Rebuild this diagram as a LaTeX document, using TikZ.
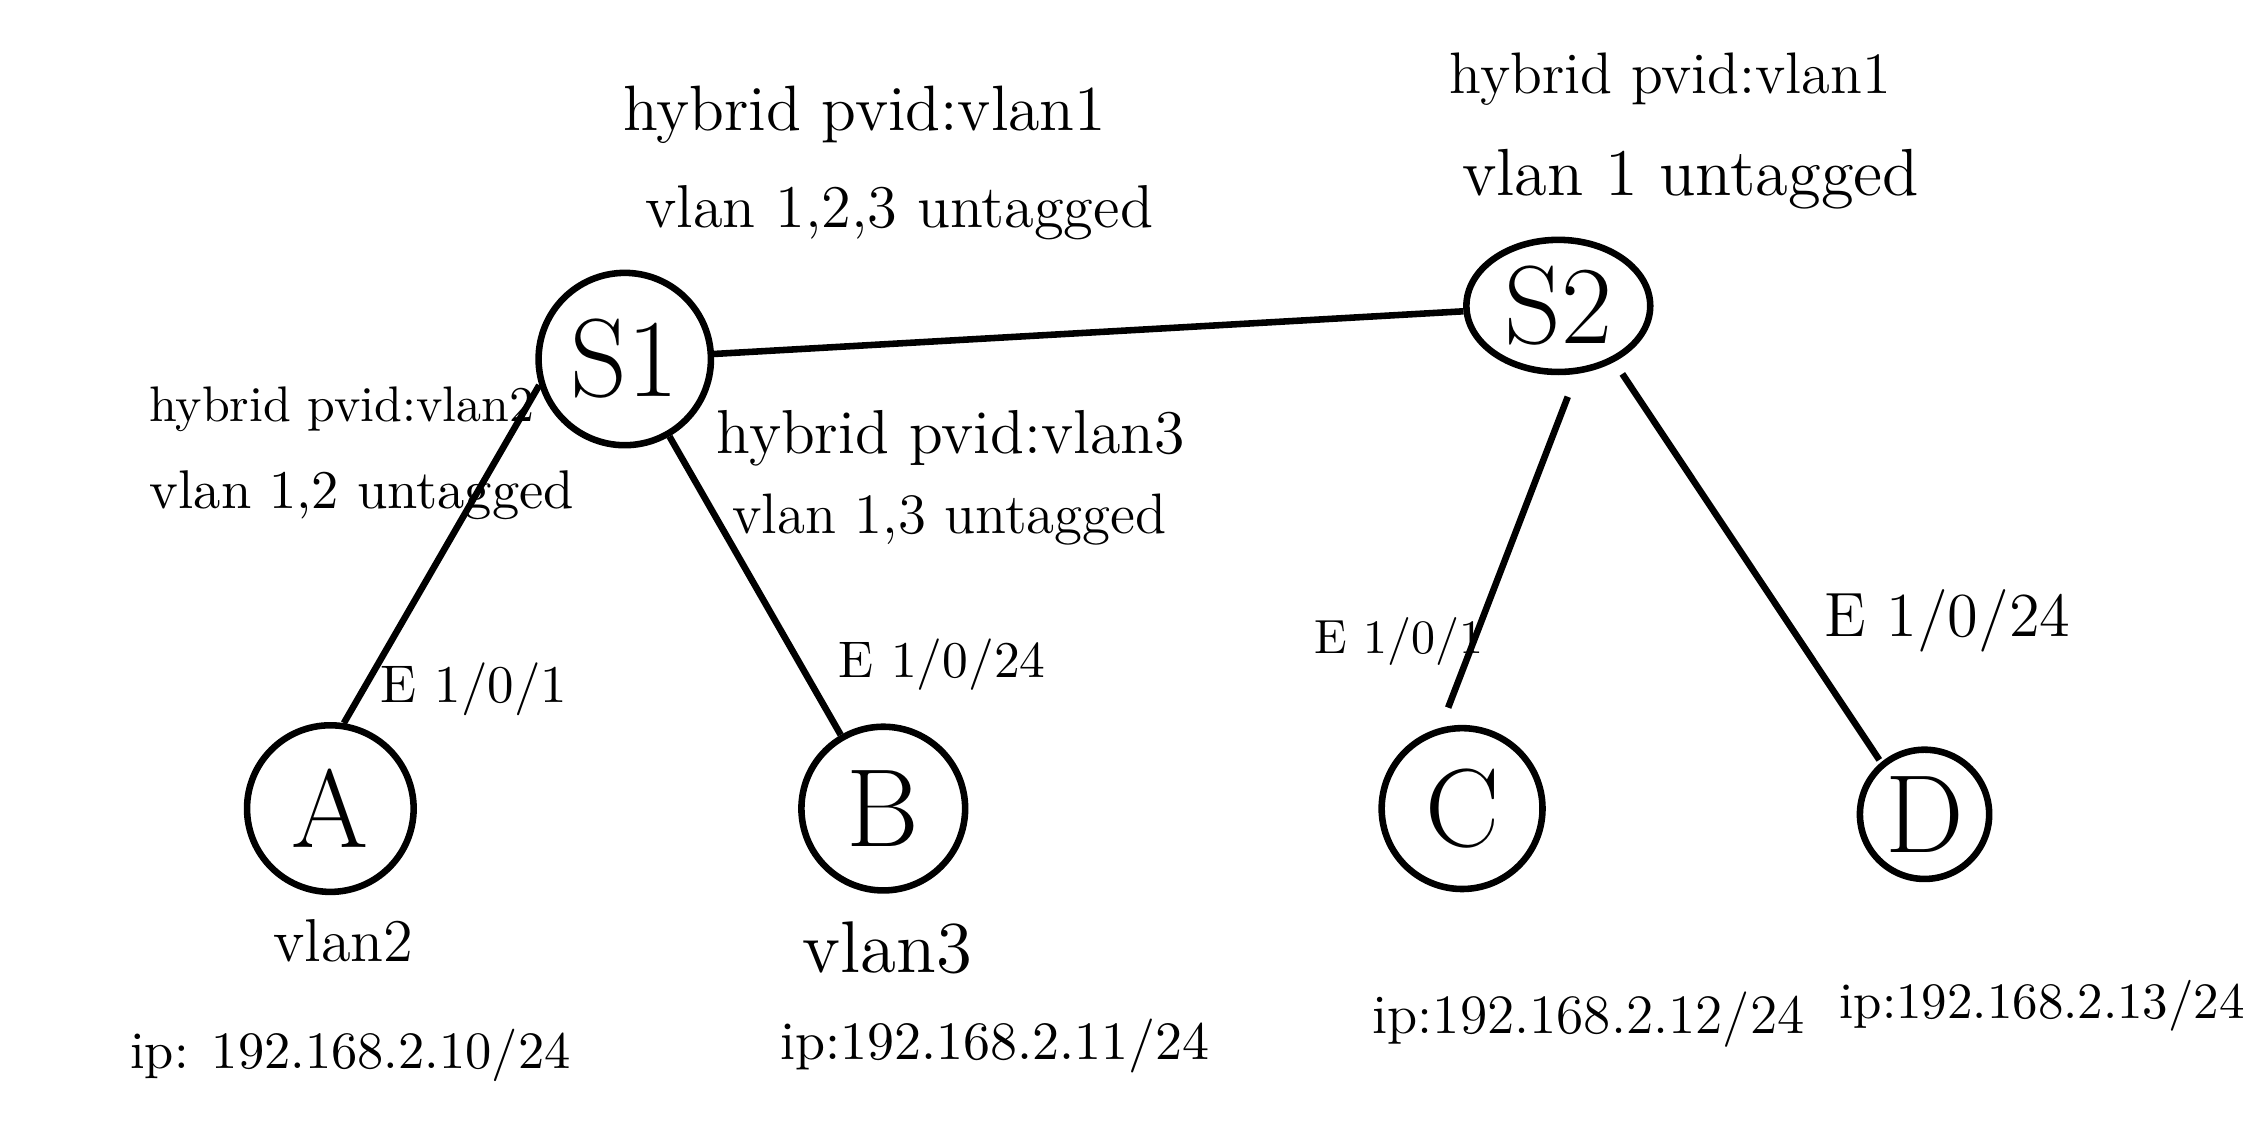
\documentclass[tikz,border=0pt]{standalone}
\usepackage{tikz}
\usetikzlibrary{shapes.geometric}

\tikzset{
  dev/.style={circle,draw,line width=1.3pt,inner sep=0pt,font=\fontsize{22}{24}\selectfont},
  lbl/.style={font=\fontsize{#1}{#1}\selectfont,inner sep=0pt},
  lbl/.default=12,
  wire/.style={line width=1.3pt}
}

\begin{document}
\begin{tikzpicture}
      \useasboundingbox (0,0) rectangle (15.68,7.97);
      % switches and hosts
      \node [dev,minimum size=1.2cm] (s1) at (4.35,5.47) {S1};
      \node [dev,ellipse,minimum width=1.28cm,minimum height=0.92cm] (s2) at (10.85,5.84) {S2};
      \node [dev,minimum size=1.16cm] (a) at (2.30,2.34) {A};
      \node [dev,minimum size=1.14cm] (b) at (6.15,2.34) {B};
      \node [dev,minimum size=1.12cm] (c) at (10.18,2.34) {C};
      \node [dev,minimum size=0.9cm] (d) at (13.40,2.30) {D};
      % links
      \draw [wire] (s1) -- (s2);
      \draw [wire] (s1.197) -- (a.81);
      \draw [wire] (s1.-60) -- (b.120);
      \draw [wire,shorten <=0.17cm,shorten >=0.15cm] (s2.-75) -- (c.105);
      \draw [wire,shorten <=0.1cm,shorten >=0.02cm] (s2.-45) -- (d.130);
      % port settings
      \node [lbl=12.7] (s1pvid) at (6.02,7.17) {hybrid pvid:vlan1};
      \node [lbl=12] (s1vlan) at (6.26,6.49) {vlan 1,2,3 untagged};
      \node [lbl=11.6] (s2pvid) at (11.63,7.42) {hybrid pvid:vlan1};
      \node [lbl=13.2] (s2vlan) at (11.77,6.72) {vlan 1 untagged};
      \node [lbl=9.9] (apvid) at (2.38,5.12) {hybrid pvid:vlan2};
      \node [lbl=10.8] (avlan) at (2.52,4.52) {vlan 1,2 untagged};
      \node [lbl=12.3] (bpvid) at (6.62,4.92) {hybrid pvid:vlan3};
      \node [lbl=11.3] (bvlan) at (6.61,4.35) {vlan 1,3 untagged};
      % ports
      \node [lbl=10.5] (ea) at (3.30,3.17) {E 1/0/1};
      \node [lbl=10.2] (eb) at (6.56,3.34) {E 1/0/24};
      \node [lbl=9.5] (ec) at (9.74,3.50) {E 1/0/1};
      \node [lbl=12.4] (ed) at (13.56,3.65) {E 1/0/24};
      % hosts
      \node [lbl=12] (avl) at (2.39,1.42) {vlan2};
      \node [lbl=14.5] (bvl) at (6.18,1.37) {vlan3};
      \node [lbl=10.4] (aip) at (2.44,0.62) {ip: 192.168.2.10/24};
      \node [lbl=10.7] (bip) at (6.93,0.69) {ip:192.168.2.11/24};
      \node [lbl=11] (cip) at (11.06,0.87) {ip:192.168.2.12/24};
      \node [lbl=10.1] (dip) at (14.22,0.97) {ip:192.168.2.13/24};
\end{tikzpicture}
\end{document}
